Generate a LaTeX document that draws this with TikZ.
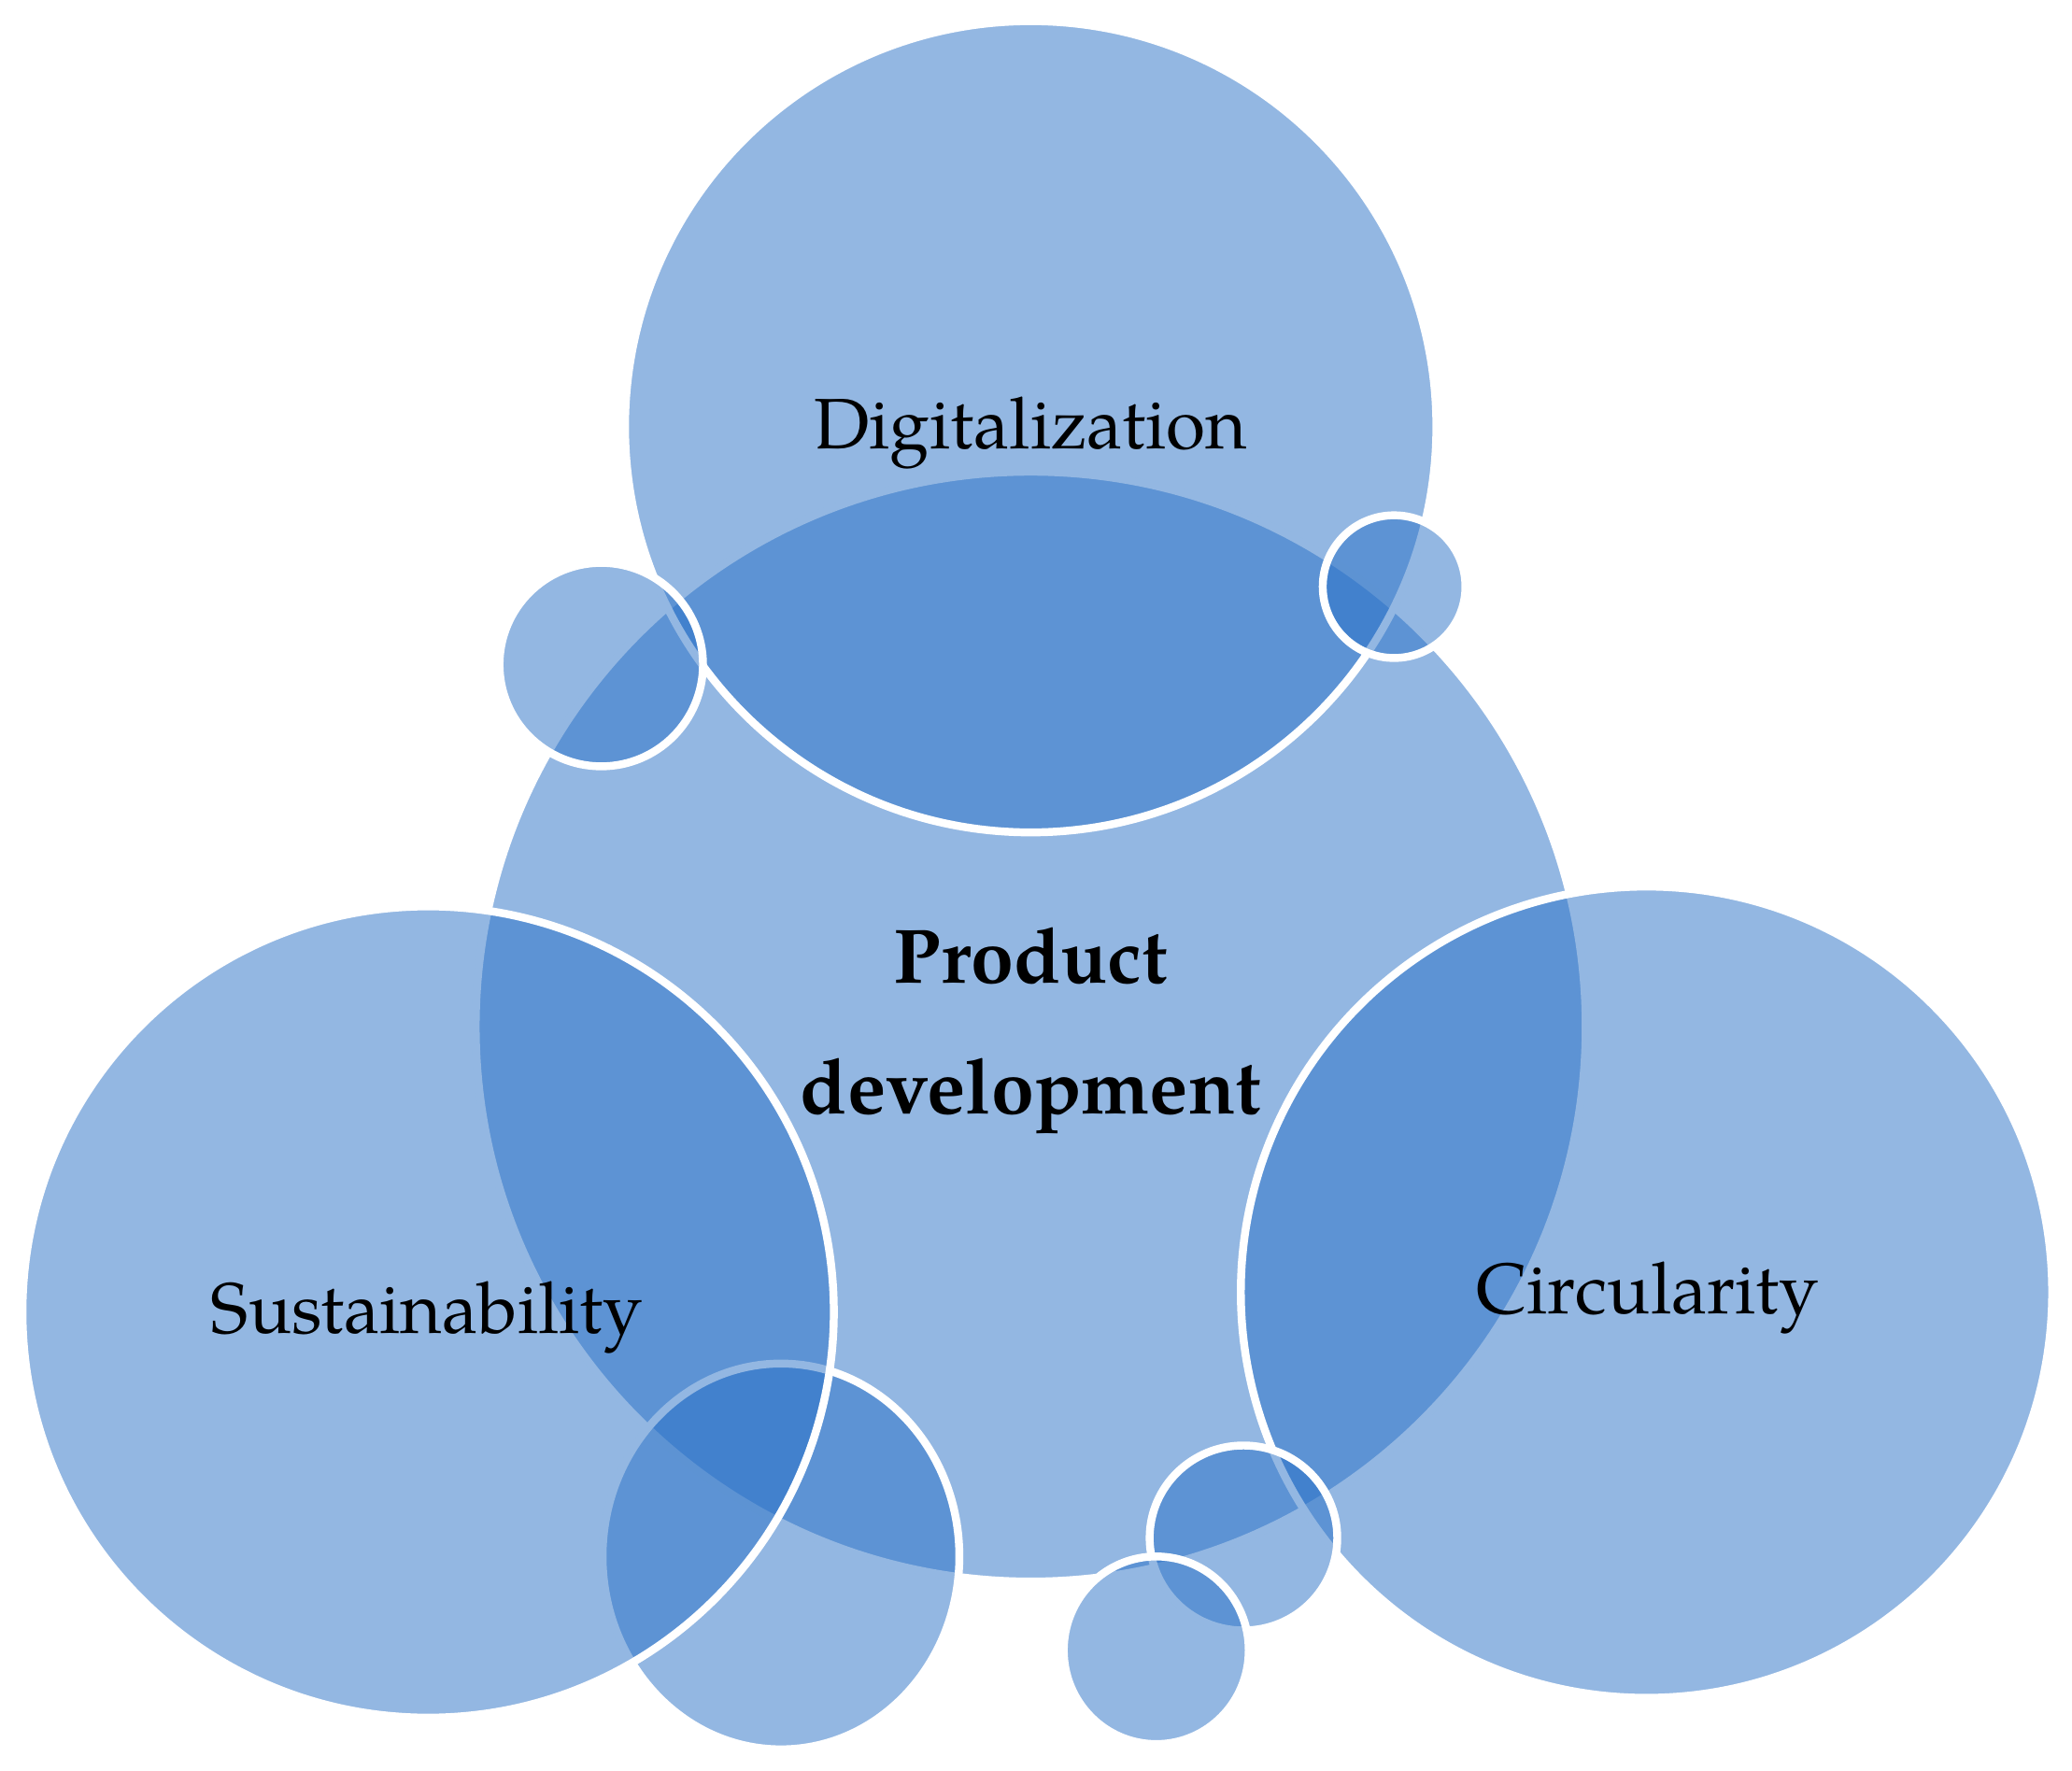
\documentclass[tikz,border=0pt]{standalone}
\usepackage{fontspec}
\setmainfont{TeX Gyre Pagella}
\definecolor{bubbleblue}{RGB}{40,112,198}
\begin{document}
\begin{tikzpicture}[x=0.01cm, y=-0.01cm, line join=round, line cap=round,
    bubble/.style={fill=bubbleblue, fill opacity=0.5, draw=white, line width=1.7pt},
    bubbletext/.style={font=\fontsize{15.4}{18}\selectfont, anchor=base, text=black}]
\useasboundingbox (0,0) rectangle (1568,1340);
% big circles and small bubbles, back to front
\filldraw[bubble] (780,777) circle [radius=420];
\filldraw[bubble] (780,323) circle [radius=307];
\filldraw[bubble] (455,503) circle [radius=77];
\filldraw[bubble] (1055,444) circle [radius=54];
\filldraw[bubble] (591,1178) circle [x radius=135, y radius=146];
\filldraw[bubble] (324,993) circle [radius=307];
\filldraw[bubble] (1246,978) circle [radius=307];
\filldraw[bubble] (941,1164) circle [x radius=71, y radius=70];
\filldraw[bubble] (875,1249) circle [x radius=70, y radius=71];
% texts
\node[bubbletext] (digit) at (780,340) {Digitalization};
\node[bubbletext] (sust) at (323,1009) {Sustainability};
\node[bubbletext] (circ) at (1247,994) {Circularity};
\node[font=\fontsize{16.6}{28.2}\selectfont\bfseries, align=center] (prod) at (780,780) {Product\\development};
\end{tikzpicture}
\end{document}
